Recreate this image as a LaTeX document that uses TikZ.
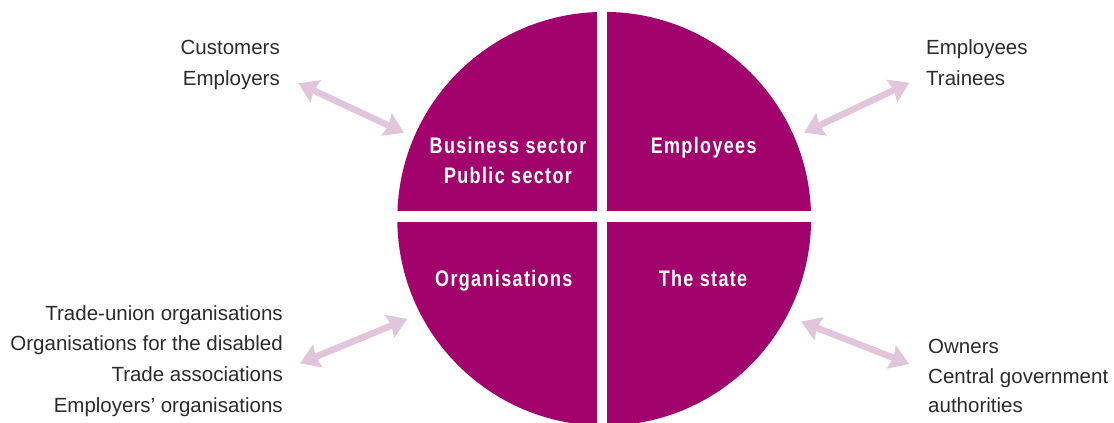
\documentclass[tikz,border=0pt]{standalone}
\usepackage{fontspec}
\setmainfont{Liberation Sans}
\newfontfamily\segfont[FakeStretch=0.8,LetterSpace=6]{Liberation Sans}
\usetikzlibrary{arrows.meta}
\definecolor{disc}{HTML}{A1026B}
\definecolor{arr}{HTML}{E1C5DA}
\definecolor{txt}{HTML}{2B2B2B}
\tikzset{
  lbl/.style={font=\fontsize{20.5}{24}\selectfont, text=txt, inner sep=0pt},
  seg/.style={font=\segfont\bfseries\fontsize{22.5}{26}\selectfont, text=white, inner sep=0pt, anchor=base},
  link/.style={draw=arr, line width=6.5pt, {Stealth[length=19pt,width=24pt,inset=2pt]}-{Stealth[length=19pt,width=24pt,inset=2pt]}}
}
\begin{document}
\begin{tikzpicture}[x=1pt,y=-1pt]
\useasboundingbox (0,0) rectangle (1114,423);
\begin{scope}
\clip (0,0) rectangle (1114,423);
\fill[disc] (604.2,218.8) circle[radius=206.9];
\fill[white] (596.7,-5) rectangle (606.7,430);
\fill[white] (380,211) rectangle (830,221.7);
\end{scope}
% segment labels
\node[seg] (bs) at (508,153) {Business sector};
\node[seg] (ps) at (508,183) {Public sector};
\node[seg] (em) at (703.7,153) {Employees};
\node[seg] (or) at (503.8,286.7) {Organisations};
\node[seg] (st) at (703,286.7) {The state};
% outer labels
\node[lbl, anchor=base east] (cu) at (280,54.5) {Customers};
\node[lbl, anchor=base east] (ep) at (280,85.5) {Employers};
\node[lbl, anchor=base west] (ee) at (926,54.5) {Employees};
\node[lbl, anchor=base west] (tr) at (926,85.5) {Trainees};
\node[lbl, anchor=base east] (tu) at (283,320) {Trade-union organisations};
\node[lbl, anchor=base east] (od) at (283,350.5) {Organisations for the disabled};
\node[lbl, anchor=base east] (ta) at (283,381) {Trade associations};
\node[lbl, anchor=base east] (eo) at (283,412) {Employers’ organisations};
\node[lbl, anchor=base west] (ow) at (928,353) {Owners};
\node[lbl, anchor=base west] (cg) at (928,383) {Central government};
\node[lbl, anchor=base west] (au) at (928,412) {authorities};
% arrows
\coordinate (a1) at (298.3,83.3);
\coordinate (b1) at (404,132.7);
\coordinate (a2) at (804,132.7);
\coordinate (b2) at (909.3,82.7);
\coordinate (a3) at (300,363.3);
\coordinate (b3) at (407.3,319);
\coordinate (a4) at (801,321.7);
\coordinate (b4) at (909.3,364);
\draw[link] (a1) -- (b1);
\draw[link] (a2) -- (b2);
\draw[link] (a3) -- (b3);
\draw[link] (a4) -- (b4);
\end{tikzpicture}
\end{document}
